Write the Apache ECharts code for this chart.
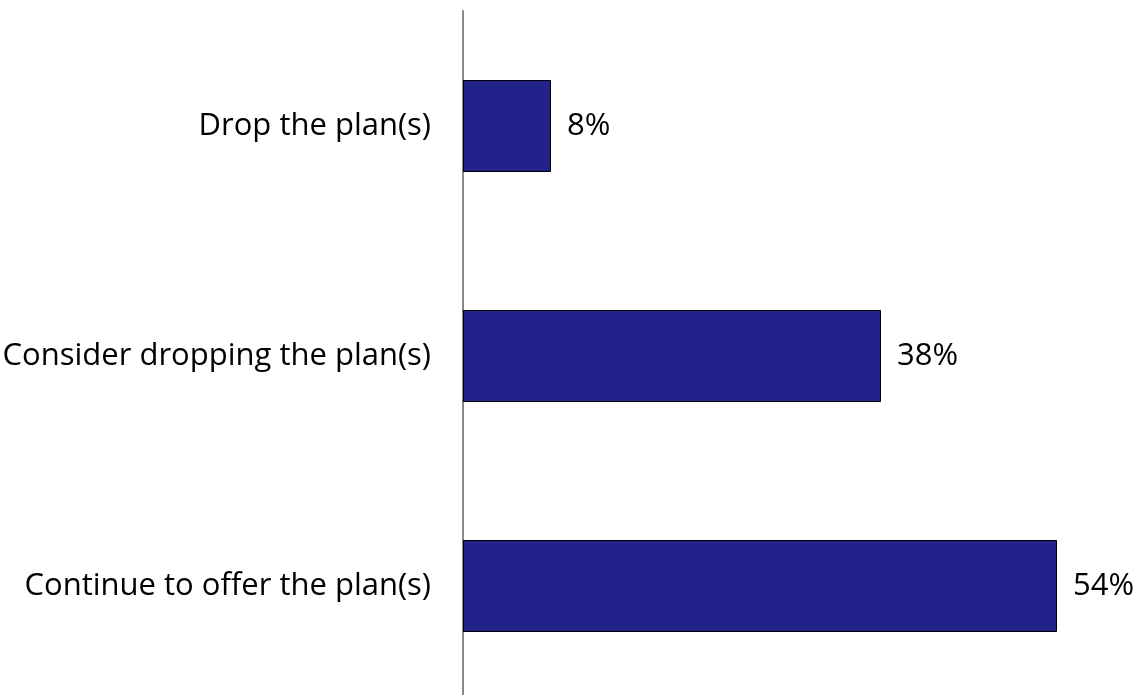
<!DOCTYPE html>
<html><head><meta charset="utf-8">
<script src="https://cdn.jsdelivr.net/npm/echarts@6/dist/echarts.min.js"></script>
<style>html,body{margin:0;padding:0;background:#fff}#c{width:1137px;height:695px}</style>
</head><body><div id="c"></div>
<script>
const categories = ['Drop the plan(s)', 'Consider dropping the plan(s)', 'Continue to offer the plan(s)'];
const values = [8, 38, 54];
const chart = echarts.init(document.getElementById('c'));
const font = 'Open Sans';
chart.setOption({
  animation: false,
  grid: {left: 463, top: 11, width: 660, height: 690, containLabel: false, outerBoundsMode: 'none'},
  xAxis: {type: 'value', min: 0, max: 60, show: false},
  yAxis: {
    type: 'category', data: categories, inverse: true,
    axisLine: {lineStyle: {color: '#888', width: 2}},
    axisTick: {show: false},
    axisLabel: {color: '#000', fontFamily: font, fontSize: 31, margin: 32, padding: [6, 0, 0, 0]}
  },
  series: [{
    type: 'bar', data: values, barCategoryGap: '60%',
    itemStyle: {color: '#22238A', borderColor: '#000', borderWidth: 1},
    label: {show: true, position: 'right', distance: 16, formatter: '{c}%', color: '#000', fontFamily: font, fontSize: 31, padding: [6, 0, 0, 0]}
  }]
});
</script></body></html>
